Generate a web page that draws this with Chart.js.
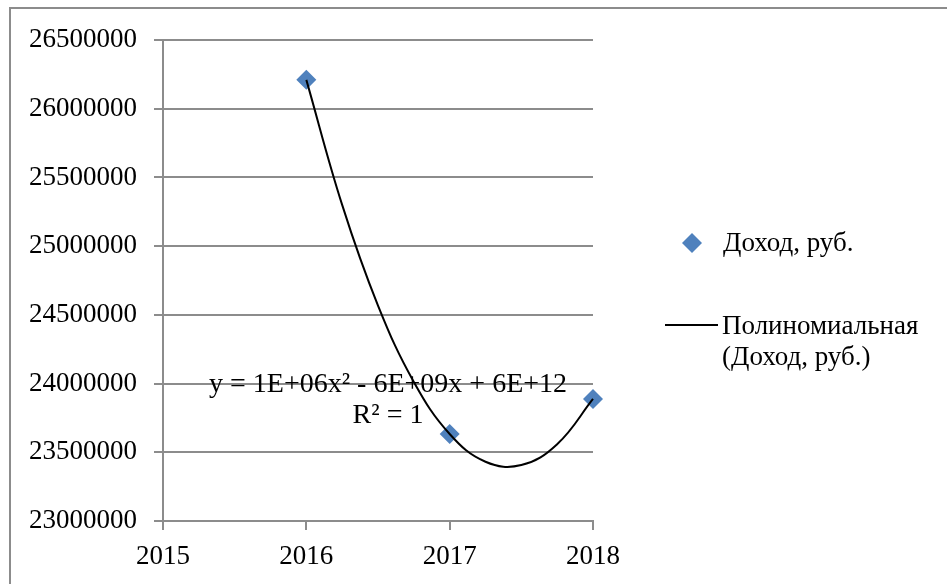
<!DOCTYPE html>
<html><head><meta charset="utf-8">
<script src="https://cdn.jsdelivr.net/npm/chart.js@4.4.0/dist/chart.umd.min.js"></script>
<style>html,body{margin:0;padding:0;background:#fff;overflow:hidden}#wrap{width:947px;height:584px;position:relative}</style>
</head><body><div id="wrap"><canvas id="c" width="947" height="584"></canvas></div>
<script>
// ---- data ----
const years = [2016, 2017, 2018];
const income = [26210000, 23633000, 23888000];
// polynomial trendline, sampled off the drawn curve
const trendX = [2016, 2016.25, 2016.5, 2016.75, 2017, 2017.25, 2017.5, 2017.75, 2018];
const trendY = [26210000, 25300000, 24568000, 24012000, 23633000, 23431000, 23407000, 23559000, 23888000];
const yTicks = [23000000, 23500000, 24000000, 24500000, 25000000, 25500000, 26000000, 26500000];
const xTicks = [2015, 2016, 2017, 2018];
const seriesLabel = 'Доход, руб.';
const trendLabel = 'Полиномиальная (Доход, руб.)';
const equationLines = ['y = 1E+06x² - 6E+09x + 6E+12', 'R² = 1'];

const FONT = '"Liberation Serif", "Times New Roman", serif';
const GRID = '#8c8c8c';
const BLUE = '#4f81bd';

const framePlugin = {
  id: 'frame',
  beforeDraw(chart) {
    const ctx = chart.ctx;
    ctx.save();
    ctx.strokeStyle = GRID;
    ctx.lineWidth = 2;
    ctx.beginPath();
    ctx.moveTo(10, 584);
    ctx.lineTo(10, 8);
    ctx.lineTo(947, 8);
    ctx.stroke();
    ctx.restore();
  }
};

const equationPlugin = {
  id: 'equation',
  beforeDatasetsDraw(chart) {
    const ctx = chart.ctx;
    const xs = chart.scales.x, ys = chart.scales.y;
    const cx = xs.getPixelForValue(2016.57);
    const cy = ys.getPixelForValue(24000000) + 1;
    ctx.save();
    ctx.fillStyle = '#000';
    ctx.font = '28px ' + FONT;
    ctx.textAlign = 'center';
    ctx.textBaseline = 'middle';
    ctx.fillText(equationLines[0], cx, cy);
    ctx.fillText(equationLines[1], cx, cy + 31);
    ctx.restore();
  }
};

const legendPlugin = {
  id: 'customLegend',
  afterDraw(chart) {
    const ctx = chart.ctx;
    const ds0 = chart.data.datasets[0];
    const ds1 = chart.data.datasets[1];
    ctx.save();
    // marker
    ctx.fillStyle = ds0.backgroundColor;
    ctx.beginPath();
    const mx = 692, my = 243, r = 10;
    ctx.moveTo(mx, my - r); ctx.lineTo(mx + r, my); ctx.lineTo(mx, my + r); ctx.lineTo(mx - r, my);
    ctx.closePath(); ctx.fill();
    ctx.fillStyle = '#000';
    ctx.font = '27px ' + FONT;
    ctx.textAlign = 'left';
    ctx.textBaseline = 'middle';
    ctx.fillText(ds0.label, 723, 244);
    // line
    ctx.strokeStyle = ds1.borderColor;
    ctx.lineWidth = 2;
    ctx.beginPath();
    ctx.moveTo(665, 325); ctx.lineTo(718, 325);
    ctx.stroke();
    const words = ds1.label.split(' ');
    const first = words[0];
    const rest = words.slice(1).join(' ');
    ctx.fillText(first, 722, 327);
    ctx.fillText(rest, 722, 358);
    ctx.restore();
  }
};

new Chart(document.getElementById('c'), {
  type: 'scatter',
  data: {
    datasets: [
      {
        label: seriesLabel,
        data: years.map((x, i) => ({ x: x, y: income[i] })),
        backgroundColor: BLUE,
        borderColor: BLUE,
        pointStyle: 'rectRot',
        pointRadius: 10,
        pointHoverRadius: 10,
        borderWidth: 0,
        showLine: false,
        clip: false,
        order: 2
      },
      {
        label: trendLabel,
        data: trendX.map((x, i) => ({ x: x, y: trendY[i] })),
        borderColor: '#000',
        backgroundColor: '#000',
        borderWidth: 2,
        pointRadius: 0,
        pointHoverRadius: 0,
        showLine: true,
        tension: 0.4,
        fill: false,
        clip: false,
        order: 1
      }
    ]
  },
  options: {
    responsive: false,
    animation: false,
    devicePixelRatio: 1,
    layout: { padding: { left: 0, right: 354, top: 40, bottom: 0 } },
    plugins: { legend: { display: false }, tooltip: { enabled: false } },
    scales: {
      x: {
        type: 'linear',
        min: xTicks[0],
        max: xTicks[xTicks.length - 1],
        afterBuildTicks(scale) { scale.ticks = xTicks.map(v => ({ value: v })); },
        afterFit(scale) { scale.height = 63; },
        grid: { drawOnChartArea: false, drawTicks: true, tickLength: 9, color: GRID, lineWidth: 2 },
        border: { display: true, color: GRID, width: 2 },
        ticks: { color: '#000', font: { family: FONT, size: 27 }, padding: 11, maxRotation: 0, autoSkip: false, callback: v => String(v) }
      },
      y: {
        type: 'linear',
        min: yTicks[0],
        max: yTicks[yTicks.length - 1],
        afterBuildTicks(scale) { scale.ticks = yTicks.map(v => ({ value: v })); },
        afterFit(scale) { scale.width = 163; },
        grid: { drawOnChartArea: true, drawTicks: true, tickLength: 9, color: GRID, lineWidth: 2 },
        border: { display: true, color: GRID, width: 2 },
        ticks: { color: '#000', font: { family: FONT, size: 27 }, padding: 17, autoSkip: false, callback: v => String(v) }
      }
    }
  },
  plugins: [framePlugin, equationPlugin, legendPlugin]
});
</script>
</body></html>
